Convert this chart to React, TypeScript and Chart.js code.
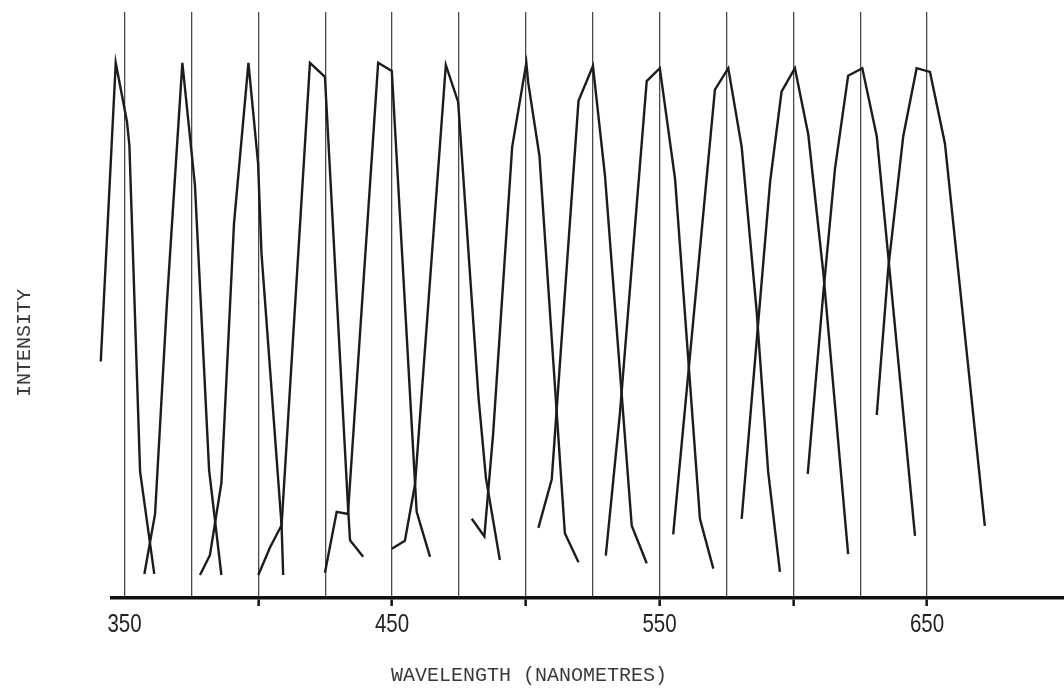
import React, { useEffect, useRef } from 'react';
import { Chart, registerables } from 'chart.js';

Chart.register(...registerables);

// Vertical reference lines (nm), labelled ticks and tick marks
const gridWavelengths = [350, 375, 400, 425, 450, 475, 500, 525, 550, 575, 600, 625, 650];
const labelledWavelengths = [350, 450, 550, 650];
const tickMarkWavelengths = [400, 450, 500, 550, 600, 650];

const xTitle = 'WAVELENGTH (NANOMETRES)';
const yTitle = 'INTENSITY';

// Each filter transmission curve: [wavelength nm, relative intensity]
const filter1 = [[341.1, 44.2], [346.7, 100.0], [350.9, 89.0], [351.8, 84.6], [355.8, 23.6], [361.1, 4.5]];
const filter2 = [[357.4, 4.5], [361.4, 15.7], [365.9, 55.7], [371.6, 100.0], [376.3, 77.2], [381.6, 23.9], [386.2, 4.3]];
const filter3 = [[378.2, 4.3], [381.9, 8.0], [386.2, 21.5], [390.9, 69.9], [396.3, 100.0], [399.9, 81.3], [401.2, 64.3], [408.7, 13.5], [409.3, 4.3]];
const filter4 = [[400.0, 4.3], [404.4, 9.5], [408.7, 13.6], [419.3, 100.0], [424.9, 97.4], [433.6, 16.4], [434.3, 10.8], [439.2, 7.7]];
const filter5 = [[424.9, 4.7], [429.3, 16.1], [433.5, 15.7], [444.8, 100.0], [449.9, 98.5], [458.6, 21.3], [459.2, 16.1], [464.2, 7.7]];
const filter6 = [[449.9, 9.2], [454.8, 10.7], [458.6, 21.3], [470.1, 99.6], [474.7, 92.7], [482.3, 37.6], [485.1, 22.4], [490.3, 7.1]];
const filter7 = [[479.8, 14.8], [484.5, 11.5], [487.8, 30.8], [494.9, 84.3], [500.2, 100.0], [500.9, 96.3], [505.1, 82.6], [514.6, 12.1], [519.7, 6.7]];
const filter8 = [[504.7, 13.1], [509.7, 22.2], [519.7, 92.9], [525.1, 99.4], [529.6, 78.9], [539.6, 13.5], [545.2, 6.5]];
const filter9 = [[529.9, 7.9], [535.2, 34.6], [545.2, 96.6], [550.1, 99.0], [555.8, 78.3], [565.1, 14.8], [570.1, 5.5]];
const filter10 = [[555.1, 11.9], [570.7, 95.0], [575.7, 99.0], [580.7, 84.3], [586.3, 53.6], [590.6, 23.6], [595.0, 4.9]];
const filter11 = [[580.7, 14.8], [591.3, 77.6], [595.6, 94.6], [600.6, 99.0], [605.6, 86.6], [611.2, 60.9], [620.5, 8.2]];
const filter12 = [[605.4, 23.2], [611.2, 56.9], [615.6, 80.3], [620.5, 97.6], [625.8, 99.0], [631.2, 86.3], [645.5, 11.6]];
const filter13 = [[631.2, 34.2], [635.5, 61.6], [641.1, 86.3], [646.1, 99.0], [651.1, 98.3], [656.7, 84.9], [671.6, 13.5]];

const filters = [filter1, filter2, filter3, filter4, filter5, filter6, filter7, filter8, filter9, filter10, filter11, filter12, filter13];

// Draws the axis titles and the (condensed) wavelength labels
const textPlugin = {
  id: 'plotterText',
  afterDraw(chart: any) {
    const { ctx } = chart;
    const xScale = chart.scales.x;
    ctx.save();
    ctx.fillStyle = '#222';
    ctx.font = '25px "Liberation Sans", Arial, sans-serif';
    ctx.textAlign = 'center';
    ctx.textBaseline = 'alphabetic';
    const baseY = xScale.bottom - 58;
    labelledWavelengths.forEach((v) => {
      const px = xScale.getPixelForValue(v);
      ctx.save();
      ctx.translate(px, baseY);
      ctx.scale(0.82, 1);
      ctx.fillText(String(v), 0, 0);
      ctx.restore();
    });
    ctx.fillStyle = '#3a3a3a';
    ctx.font = '20px "Liberation Mono", "DejaVu Sans Mono", monospace';
    ctx.textBaseline = 'middle';
    ctx.fillText(xTitle, 529, 676);
    ctx.translate(25, 343);
    ctx.rotate(-Math.PI / 2);
    ctx.fillText(yTitle, 0, 0);
    ctx.restore();
  },
};

export default function App() {
  const canvasRef = useRef<HTMLCanvasElement | null>(null);

  useEffect(() => {
    if (!canvasRef.current) return;
    const chart = new Chart(canvasRef.current, {
      type: 'line',
      data: {
        datasets: filters.map((f) => ({
          data: f.map(([x, y]) => ({ x, y })),
          borderColor: '#1c1c1c',
          borderWidth: 2.4,
          pointRadius: 0,
          tension: 0,
          fill: false,
          clip: false as any,
        })),
      },
      options: {
        animation: false,
        responsive: false,
        layout: { padding: { left: 112, top: 12, right: 0, bottom: 0 } },
        plugins: { legend: { display: false }, tooltip: { enabled: false } },
        scales: {
          x: {
            type: 'linear',
            min: 345.3,
            max: 701.2,
            afterBuildTicks: (scale: any) => {
              scale.ticks = gridWavelengths.map((v) => ({ value: v }));
            },
            afterFit: (scale: any) => {
              scale.height = 92;
            },
            grid: {
              color: '#4a4a4a',
              lineWidth: 1.3,
              drawTicks: true,
              tickLength: 8,
              tickWidth: 2.5,
              tickColor: (c: any) =>
                c.tick && tickMarkWavelengths.includes(c.tick.value) ? '#111' : 'rgba(0,0,0,0)',
            },
            border: { display: true, color: '#111', width: 3.5 },
            ticks: { display: false, autoSkip: false, maxRotation: 0 },
          },
          y: { display: false, min: 0, max: 109.5 },
        },
      },
      plugins: [textPlugin],
    } as any);
    return () => chart.destroy();
  }, []);

  return (
    <div style={{ position: 'absolute', left: 0, top: 0, width: 1064, height: 690, background: '#fff' }}>
      <canvas ref={canvasRef} width={1064} height={690} />
    </div>
  );
}
